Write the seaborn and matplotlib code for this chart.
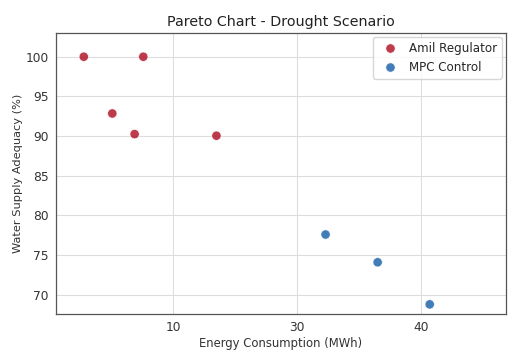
import matplotlib
matplotlib.use("Agg")
import matplotlib.pyplot as plt
import seaborn as sns
import pandas as pd

# Data
amil_energy = [12.8, 17.6, 15.1, 16.9, 23.5]
amil_adequacy = [100.0, 100.0, 92.85, 90.25, 90.05]
mpc_energy = [32.3, 36.5, 40.7]
mpc_adequacy = [77.6, 74.1, 68.8]
series_names = ["Amil Regulator", "MPC Control"]
series_colors = ["#b2182b", "#2166ac"]
x_tick_positions = [20, 30, 40]
x_tick_labels = ["10", "30", "40"]
y_ticks = [70, 75, 80, 85, 90, 95, 100]

df = pd.DataFrame({
    "Energy": amil_energy + mpc_energy,
    "Adequacy": amil_adequacy + mpc_adequacy,
    "Method": [series_names[0]] * len(amil_energy) + [series_names[1]] * len(mpc_energy),
})

sns.set_style("whitegrid")
plt.rcParams["font.family"] = ["DejaVu Sans"]

fig, ax = plt.subplots(figsize=(5.08, 3.54), dpi=100)
fig.subplots_adjust(left=0.110, right=0.996, top=0.907, bottom=0.112)

sns.scatterplot(data=df, x="Energy", y="Adequacy", hue="Method",
                palette=dict(zip(series_names, series_colors)),
                s=45, alpha=0.85, edgecolor="white", linewidth=0.5, ax=ax)

ax.set_xlim(10.55, 46.85)
ax.set_ylim(67.54, 103.0)
ax.set_xticks(x_tick_positions)
ax.set_xticklabels(x_tick_labels)
ax.set_yticks(y_ticks)

ax.grid(True, color="#dddddd", linewidth=0.8)
for sp in ax.spines.values():
    sp.set_color("#555555")
    sp.set_linewidth(0.9)
ax.tick_params(axis="both", which="both", length=3, width=0.6, color="#555555",
               labelsize=8.8, labelcolor="#333333", pad=2)

ax.set_title("Pareto Chart - Drought Scenario", fontsize=10.3, color="#222222", pad=5)
ax.set_xlabel("Energy Consumption (MWh)", fontsize=8.4, color="#333333", labelpad=2)
ax.set_ylabel("Water Supply Adequacy (%)", fontsize=8.2, color="#333333", labelpad=2)

leg = ax.legend(loc="upper right", fontsize=8.6, frameon=True, title=None,
                borderaxespad=0.35, handletextpad=0.6)
leg.get_frame().set_edgecolor("#cccccc")

fig.savefig("out.png", dpi=100)
